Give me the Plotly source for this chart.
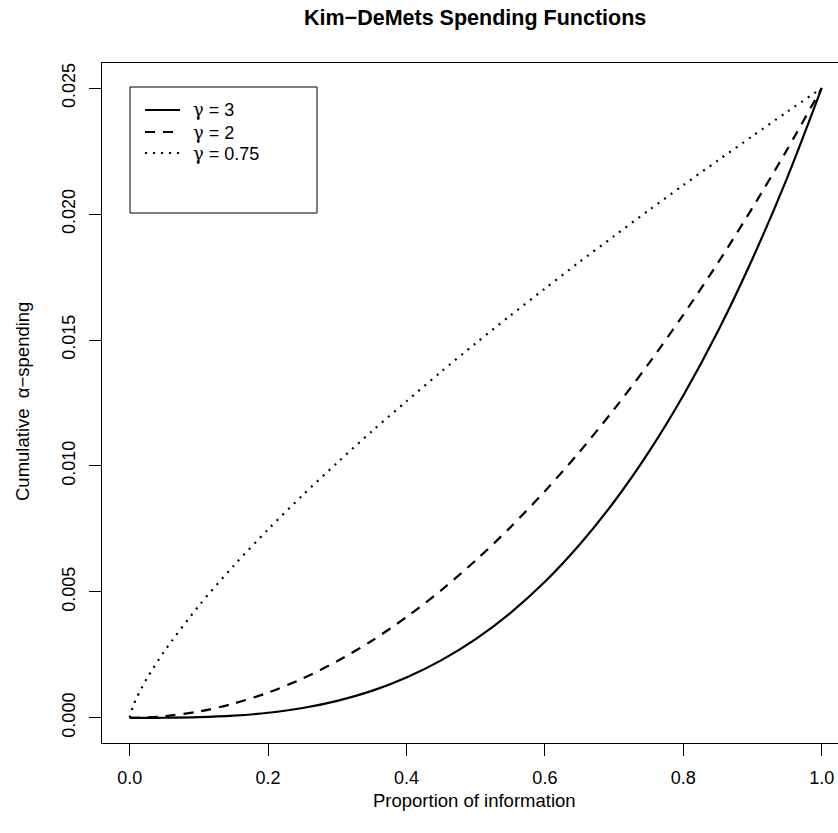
import plotly.graph_objects as go

# Proportion of information (x) and cumulative alpha spending for each gamma
t = [0.0, 0.005, 0.01, 0.025, 0.05, 0.1, 0.15, 0.2, 0.25, 0.3, 0.35, 0.4, 0.45,
     0.5, 0.55, 0.6, 0.65, 0.7, 0.75, 0.8, 0.85, 0.9, 0.95, 1.0]
spend_g3 = [0.0, 0.0, 0.0, 0.0000004, 0.0000031, 0.000025, 0.0000844, 0.0002,
            0.000391, 0.000675, 0.00107, 0.0016, 0.00228, 0.003125, 0.00416,
            0.0054, 0.00687, 0.00858, 0.01055, 0.0128, 0.01535, 0.01823,
            0.02143, 0.025]
spend_g2 = [0.0, 0.0000006, 0.0000025, 0.0000156, 0.0000625, 0.00025, 0.000563,
            0.001, 0.00156, 0.00225, 0.00306, 0.004, 0.00506, 0.00625, 0.00756,
            0.009, 0.01056, 0.01225, 0.01406, 0.016, 0.01806, 0.02025, 0.02256,
            0.025]
spend_g075 = [0.0, 0.00047, 0.00079, 0.00157, 0.00264, 0.00445, 0.00603, 0.00748,
              0.00884, 0.01013, 0.01138, 0.01257, 0.01374, 0.01487, 0.01597,
              0.01704, 0.0181, 0.01913, 0.02015, 0.02115, 0.02213, 0.0231,
              0.02406, 0.025]
gamma_values = ["3", "2", "0.75"]
x_ticks = [0.0, 0.2, 0.4, 0.6, 0.8, 1.0]
y_ticks = [0.0, 0.005, 0.010, 0.015, 0.020, 0.025]

FONT = "Liberation Sans, Arial, Helvetica, sans-serif"
dashes = ["solid", "10px,8px", "2px,6px"]
series = [spend_g3, spend_g2, spend_g075]

fig = go.Figure()
for ys, dash, g in zip(series, dashes, gamma_values):
    fig.add_trace(go.Scatter(x=t, y=ys, mode="lines", name="γ = " + g, showlegend=False,
                             line=dict(color="black", width=2.2, dash=dash,
                                       shape="spline", smoothing=0.8)))

W, H = 838, 833
L, R, T, B = 102, 0, 63, 90
pw, ph = W - L - R, H - T - B


def px(X):
    return (X - L) / pw


def py(Y):
    return (H - B - Y) / ph


fig.update_layout(
    width=W, height=H, autosize=False,
    margin=dict(l=L, r=R, t=T, b=B, pad=0),
    paper_bgcolor="white", plot_bgcolor="white",
    font=dict(family=FONT, size=18, color="black"),
    showlegend=False,
)
fig.update_xaxes(range=[-0.04, -0.04 + pw / 692.0], tickvals=x_ticks,
                 ticktext=[f"{v:.1f}" for v in x_ticks],
                 showgrid=False, zeroline=False, showline=True, mirror=True,
                 linecolor="black", linewidth=1, ticks="outside", ticklen=12,
                 tickwidth=1, tickcolor="black", tickfont=dict(size=18),
                 ticklabelstandoff=6)
fig.update_yaxes(range=[-0.001, 0.026], tickvals=y_ticks,
                 ticktext=[f"{v:.3f}" for v in y_ticks],
                 showgrid=False, zeroline=False, showline=True, mirror=False,
                 linecolor="black", linewidth=1, ticks="outside", ticklen=12,
                 tickwidth=1, tickcolor="black", tickangle=-90,
                 tickfont=dict(size=18), ticklabelstandoff=7)

ann = []
ann.append(dict(text="<b>Kim\u2212DeMets Spending Functions</b>", x=px(475), y=py(18),
                xref="paper", yref="paper", xanchor="center", yanchor="middle",
                showarrow=False, font=dict(size=21.5, family=FONT)))
ann.append(dict(text="Proportion of information", x=px(475), y=py(800),
                xref="paper", yref="paper", xanchor="center", yanchor="middle",
                showarrow=False, font=dict(size=18.5, family=FONT)))
ann.append(dict(text="Cumulative  \u03b1\u2212spending", x=px(22), y=py(402),
                xref="paper", yref="paper", xanchor="center", yanchor="middle",
                textangle=-90, showarrow=False, font=dict(size=18.5, family=FONT)))

shapes = []
shapes.append(dict(type="rect", xref="paper", yref="paper",
                   x0=px(130), x1=px(317), y0=py(213), y1=py(87),
                   line=dict(color="black", width=1), fillcolor="white", layer="above"))
rows = [110, 132, 153]
for rY, dash, g in zip(rows, dashes, gamma_values):
    shapes.append(dict(type="line", xref="paper", yref="paper",
                       x0=px(145), x1=px(180), y0=py(rY), y1=py(rY),
                       line=dict(color="black", width=2.2, dash=dash), layer="above"))
    label = "<span style='font-family:DejaVu Serif'>\u03b3</span> = " + g
    ann.append(dict(text=label, x=px(191), y=py(rY), xref="paper", yref="paper",
                    xanchor="left", yanchor="middle", showarrow=False,
                    font=dict(size=18, family=FONT)))

fig.update_layout(annotations=ann, shapes=shapes)
fig.write_html("out.html")
